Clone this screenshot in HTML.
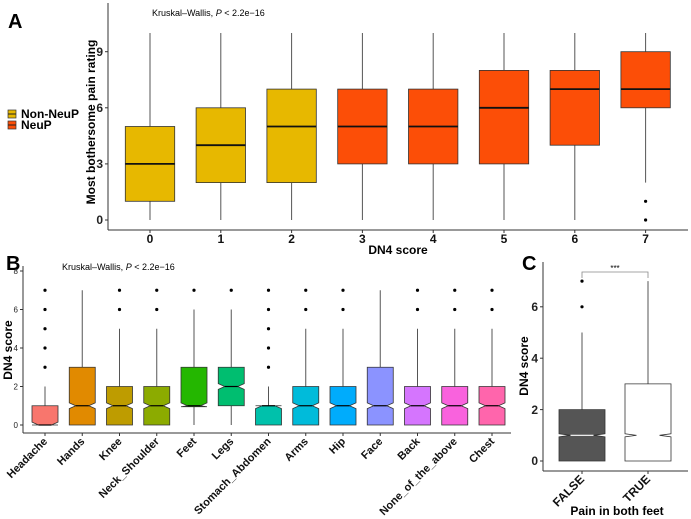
<!DOCTYPE html>
<html><head><meta charset="utf-8"><style>
body{margin:0;background:#fff;}
svg{display:block;font-family:"Liberation Sans",sans-serif;}
</style></head><body>
<svg id="c" width="691" height="519" viewBox="0 0 691 519"></svg>
<script>
// Panel A data
const catsA = ['0','1','2','3','4','5','6','7'];
const q1A = [1,2,2,3,3,3,4,6];
const medA = [3,4,5,5,5,6,7,7];
const q3A = [5,6,7,7,7,8,8,9];
const loA = [0,0,0,0,0,0,0,2];
const hiA = [10,10,10,10,10,10,10,10];
const outA = [[],[],[],[],[],[],[],[0,1]];
const grpA = ['Non-NeuP','Non-NeuP','Non-NeuP','NeuP','NeuP','NeuP','NeuP','NeuP'];
const ticksA = [0,3,6,9];
// Panel B data
const catsB = ['Headache','Hands','Knee','Neck_Shoulder','Feet','Legs','Stomach_Abdomen','Arms','Hip','Face','Back','None_of_the_above','Chest'];
const q1B = [0,0,0,0,0.95,1,0,0,0,0,0,0,0];
const medB = [0,1,1,1,1,2,1,1,1,1,1,1,1];
const q3B = [1,3,2,2,3,3,1,2,2,3,2,2,2];
const loB = [0,0,0,0,0,0,0,0,0,0,0,0,0];
const hiB = [2,7,5,5,6,6,2,5,5,7,5,5,5];
const outB = [[3,4,5,6,7],[],[6,7],[6,7],[7],[7],[3,4,5,6,7],[6,7],[6,7],[],[6,7],[6,7],[6,7]];
const ticksB = [0,2,4,6,8];
// Panel C data
const catsC = ['FALSE','TRUE'];
const q1C = [0,0];
const medC = [1,1];
const q3C = [2,3];
const loC = [0,0];
const hiC = [5,7];
const outC = [[6,7],[]];
const ticksC = [0,2,4,6];

const NS='http://www.w3.org/2000/svg';
const svg=document.getElementById('c');
function mk(tag,attrs,parent,text){const e=document.createElementNS(NS,tag);for(const k in attrs)e.setAttribute(k,attrs[k]);if(text!==undefined)e.textContent=text;(parent||svg).appendChild(e);return e;}

function panel(cfg){
  const g=mk('g',{});
  
  
  const y=v=>cfg.y0-v*cfg.ys;
  const x=i=>cfg.x0+i*cfg.xs;
  const ax=mk('line',{x1:cfg.axL,x2:cfg.axL,y1:cfg.axT,y2:cfg.axB,stroke:'#333','stroke-width':1},g);
  
  
  const bx=mk('line',{x1:cfg.axL,x2:cfg.axR,y1:cfg.axB,y2:cfg.axB,stroke:'#333','stroke-width':1},g);
  
  
  cfg.ticks.forEach(t=>{
    mk('line',{x1:cfg.axL-3,x2:cfg.axL,y1:y(t),y2:y(t),stroke:'#333'},g);
    const tl=mk('text',{x:cfg.axL-5,y:y(t)+cfg.tf*0.35,'text-anchor':'end','font-size':cfg.tf,'font-weight':cfg.tbold?'bold':'normal',fill:'#222'},g,String(t));
    
    
  });
  cfg.cats.forEach((c,i)=>{
    const cx=x(i);
    mk('line',{x1:cx,x2:cx,y1:cfg.axB,y2:cfg.axB+3,stroke:'#333'},g);
    let lab;
    if(cfg.rot){
      lab=mk('text',{x:cx+3,y:cfg.axB+9,'text-anchor':'end','font-size':cfg.xf,'font-weight':'bold',fill:'#111',transform:`rotate(-45 ${cx+3} ${cfg.axB+9})`},g,c);
    } else {
      lab=mk('text',{x:cx,y:cfg.axB+13,'text-anchor':'middle','font-size':cfg.xf,'font-weight':'bold',fill:'#111'},g,c);
    }
    
    
    mk('line',{x1:cx,x2:cx,y1:y(cfg.q3[i]),y2:y(cfg.hi[i]),stroke:'#555','stroke-width':1},g);
    mk('line',{x1:cx,x2:cx,y1:y(cfg.q1[i]),y2:y(cfg.lo[i]),stroke:'#555','stroke-width':1},g);
    const hw=cfg.hw, fill=cfg.fill(i);
    let box;
    if(cfg.notch){
      const nh=cfg.notch, nw=hw*0.5;
      const m=cfg.med[i];
      const nt=Math.min(m+nh,cfg.q3[i]), nb=Math.max(m-nh,cfg.q1[i]);
      const pts=[[cx-hw,y(cfg.q3[i])],[cx+hw,y(cfg.q3[i])],[cx+hw,y(nt)],[cx+nw,y(m)],[cx+hw,y(nb)],[cx+hw,y(cfg.q1[i])],[cx-hw,y(cfg.q1[i])],[cx-hw,y(nb)],[cx-nw,y(m)],[cx-hw,y(nt)]];
      box=mk('polygon',{points:pts.map(p=>p.join(',')).join(' '),fill:fill,stroke:'#333','stroke-width':0.8},g);
      mk('line',{x1:cx-nw,x2:cx+nw,y1:y(m),y2:y(m),stroke:cfg.medc||'#000','stroke-width':1.2},g);
    } else {
      box=mk('rect',{x:cx-hw,y:y(cfg.q3[i]),width:2*hw,height:y(cfg.q1[i])-y(cfg.q3[i]),fill:fill,stroke:'#333','stroke-width':0.8},g);
      mk('line',{x1:cx-hw,x2:cx+hw,y1:y(cfg.med[i]),y2:y(cfg.med[i]),stroke:'#111','stroke-width':1.8},g);
    }
    
    
    cfg.out[i].forEach(o=>{
      const d=mk('circle',{cx:cx,cy:y(o),r:1.6,fill:'#000'},g);
      
      
    });
  });
  return {g,x,y};
}

const colA={'Non-NeuP':'#E7B800','NeuP':'#FC4E07'};
panel({name:'panel-a',cats:catsA,q1:q1A,med:medA,q3:q3A,lo:loA,hi:hiA,out:outA,ticks:ticksA,
  x0:150,xs:70.8,y0:220,ys:18.7,axL:108,axR:688,axT:3,axB:230,hw:24.7,tf:12,tbold:true,xf:12,
  fill:i=>colA[grpA[i]]});
const colB=['#F8766D','#E18A00','#BE9C00','#8CAB00','#24B700','#00BE70','#00C1AB','#00BBDA','#00ACFC','#8B93FF','#D575FE','#F962DD','#FF65AC'];
panel({name:'panel-b',cats:catsB,q1:q1B,med:medB,q3:q3B,lo:loB,hi:hiB,out:outB,ticks:ticksB,
  x0:45,xs:37.25,y0:425,ys:19.25,axL:23,axR:511,axT:266,axB:433,hw:13,tf:8,tbold:false,xf:11,rot:true,notch:0.15,
  fill:i=>colB[i]});
panel({name:'panel-c',cats:catsC,q1:q1C,med:medC,q3:q3C,lo:loC,hi:hiC,out:outC,ticks:ticksC,
  x0:582,xs:66,y0:461,ys:25.7,axL:543,axR:688,axT:262,axB:471,hw:23,tf:12,tbold:true,xf:12,rot:true,notch:0.06,medc:'#fff',
  fill:i=>i===0?'#555555':'#ffffff'});

function txt(name,attrs,s){const t=mk('text',attrs,svg,s);return t;}
txt('panel-label-a',{x:8,y:28,'font-size':20,'font-weight':'bold'},'A');
txt('panel-label-b',{x:6,y:270,'font-size':20,'font-weight':'bold'},'B');
txt('panel-label-c',{x:522,y:270,'font-size':20,'font-weight':'bold'},'C');
const ka=txt('stat-label-a',{x:152,y:16,'font-size':9},'Kruskal\u2013Wallis, ');
mk('tspan',{'font-style':'italic'},ka,'P');mk('tspan',{},ka,' < 2.2e\u221216');
const kb=txt('stat-label-b',{x:62,y:270,'font-size':9},'Kruskal\u2013Wallis, ');
mk('tspan',{'font-style':'italic'},kb,'P');mk('tspan',{},kb,' < 2.2e\u221216');
txt('y-axis-title-a',{x:0,y:0,'font-size':12,'font-weight':'bold','text-anchor':'middle',transform:'translate(95 122) rotate(-90)'},'Most bothersome pain rating');
txt('x-axis-title-a',{x:398,y:254,'font-size':12,'font-weight':'bold','text-anchor':'middle'},'DN4 score');
txt('y-axis-title-b',{x:0,y:0,'font-size':12,'font-weight':'bold','text-anchor':'middle',transform:'translate(12 350) rotate(-90)'},'DN4 score');
txt('y-axis-title-c',{x:0,y:0,'font-size':12,'font-weight':'bold','text-anchor':'middle',transform:'translate(528 366) rotate(-90)'},'DN4 score');
txt('x-axis-title-c',{x:617,y:515,'font-size':12,'font-weight':'bold','text-anchor':'middle'},'Pain in both feet');
const br=mk('path',{d:'M582 278 V272 H648 V278',fill:'none',stroke:'#888','stroke-width':0.8});


txt('significance-stars',{x:615,y:271,'font-size':8,'text-anchor':'middle'},'***');
[['Non-NeuP','#E7B800',114],['NeuP','#FC4E07',125]].forEach(([n,c,yy])=>{
  const r=mk('rect',{x:8,y:yy-4,width:8,height:8,fill:c,stroke:'#333','stroke-width':0.7});
  
  
  mk('line',{x1:8,x2:16,y1:yy,y2:yy,stroke:'#222','stroke-width':1});
  txt('legend-entry-'+n.toLowerCase(),{x:21,y:yy+4,'font-size':12,'font-weight':'bold'},n);
});
</script>
</body></html>
